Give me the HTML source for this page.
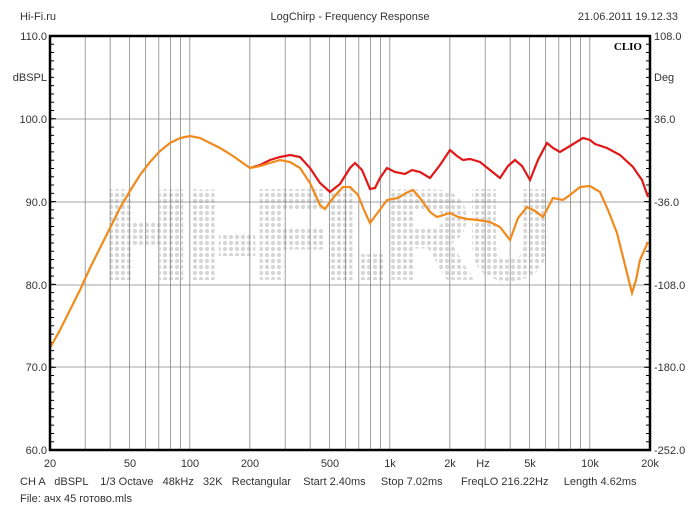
<!DOCTYPE html>
<html><head><meta charset="utf-8"><style>body{margin:0;background:#fff}svg{display:block;font-family:"Liberation Sans",sans-serif}</style></head><body>
<svg width="700" height="525" viewBox="0 0 700 525">
<defs><pattern id="d" width="6" height="6" patternUnits="userSpaceOnUse"><circle cx="3" cy="3" r="2.1" fill="#d6d6d6"/></pattern></defs>
<text x="328" y="276" font-size="120" font-weight="bold" fill="url(#d)" stroke="url(#d)" stroke-width="8" text-anchor="middle" textLength="445" lengthAdjust="spacingAndGlyphs">HI-FI.RU</text>
<g stroke="#888" stroke-width="0.8">
<line x1="85.2" y1="36" x2="85.2" y2="450"/><line x1="110.2" y1="36" x2="110.2" y2="450"/><line x1="129.6" y1="36" x2="129.6" y2="450"/><line x1="145.4" y1="36" x2="145.4" y2="450"/><line x1="158.8" y1="36" x2="158.8" y2="450"/><line x1="170.4" y1="36" x2="170.4" y2="450"/><line x1="180.6" y1="36" x2="180.6" y2="450"/><line x1="189.8" y1="36" x2="189.8" y2="450"/>
<line x1="249.8" y1="36" x2="249.8" y2="450"/><line x1="285.2" y1="36" x2="285.2" y2="450"/><line x1="310.2" y1="36" x2="310.2" y2="450"/><line x1="329.6" y1="36" x2="329.6" y2="450"/><line x1="345.4" y1="36" x2="345.4" y2="450"/><line x1="358.8" y1="36" x2="358.8" y2="450"/><line x1="370.4" y1="36" x2="370.4" y2="450"/><line x1="380.6" y1="36" x2="380.6" y2="450"/><line x1="389.8" y1="36" x2="389.8" y2="450"/>
<line x1="449.8" y1="36" x2="449.8" y2="450"/><line x1="485.2" y1="36" x2="485.2" y2="450"/><line x1="510.2" y1="36" x2="510.2" y2="450"/><line x1="529.6" y1="36" x2="529.6" y2="450"/><line x1="545.4" y1="36" x2="545.4" y2="450"/><line x1="558.8" y1="36" x2="558.8" y2="450"/><line x1="570.4" y1="36" x2="570.4" y2="450"/><line x1="580.6" y1="36" x2="580.6" y2="450"/><line x1="589.8" y1="36" x2="589.8" y2="450"/>
<line x1="50" y1="119" x2="650" y2="119"/><line x1="50" y1="202" x2="650" y2="202"/><line x1="50" y1="285" x2="650" y2="285"/><line x1="50" y1="367" x2="650" y2="367"/>
</g>
<g stroke="#000">
<line x1="52" y1="35.5" x2="52" y2="451" stroke-width="4" stroke-dasharray="1,7.28"/>
<line x1="648" y1="35.5" x2="648" y2="451" stroke-width="4" stroke-dasharray="1,7.28"/>
<line x1="53" y1="35.5" x2="53" y2="451" stroke-width="6" stroke-dasharray="1,81.8"/>
<line x1="647" y1="35.5" x2="647" y2="451" stroke-width="6" stroke-dasharray="1,81.8"/>
</g>
<text x="20" y="20" font-size="11" fill="#333">Hi-Fi.ru</text>
<text x="350" y="20" font-size="11" fill="#333" text-anchor="middle">LogChirp - Frequency Response</text>
<text x="678" y="20" font-size="11" fill="#333" text-anchor="end">21.06.2011 19.12.33</text>
<text x="642" y="50" font-size="11" font-weight="bold" font-family="Liberation Serif" text-anchor="end">CLIO</text>
<g font-size="11" fill="#333" text-anchor="end">
<text x="47" y="40">110.0</text><text x="47" y="123">100.0</text><text x="47" y="206">90.0</text><text x="47" y="289">80.0</text><text x="47" y="371">70.0</text><text x="47" y="454">60.0</text>
<text x="47" y="81">dBSPL</text></g>
<g font-size="11" fill="#333">
<text x="654" y="40">108.0</text><text x="654" y="123">36.0</text><text x="654" y="206">-36.0</text><text x="654" y="289">-108.0</text><text x="654" y="371">-180.0</text><text x="654" y="454">-252.0</text><text x="654" y="81">Deg</text></g>
<g font-size="11" fill="#333" text-anchor="middle">
<text x="50" y="467">20</text><text x="130" y="467">50</text><text x="190" y="467">100</text><text x="250" y="467">200</text><text x="330" y="467">500</text><text x="390" y="467">1k</text><text x="450" y="467">2k</text><text x="483" y="467">Hz</text><text x="530" y="467">5k</text><text x="590" y="467">10k</text><text x="650" y="467">20k</text></g>
<text x="20" y="485" font-size="11" fill="#333" xml:space="preserve">CH A   dBSPL    1/3 Octave   48kHz   32K   Rectangular    Start 2.40ms     Stop 7.02ms      FreqLO 216.22Hz     Length 4.62ms</text>
<text x="20" y="502" font-size="11" fill="#333">File: ачх 45 готово.mls</text>
<polyline fill="none" stroke="#e01818" stroke-width="2.2" points="250,168 260,165 270,160 280,157 290,155 300,157 310,168 320,183 330,192 340,184 350,168 355,163 362,170 370,189 375,188 380,178 387,168 395,172 405,174 412,170 420,172 430,178 440,165 450,150 457,156 463,160 470,159 480,162 490,170 500,178 508,166 515,160 522,166 530,180 538,160 547,143 553,148 560,152 570,146 583,138 590,140 595,144 607,148 620,155 633,167 642,180 648,197"/>
<polyline fill="none" stroke="#f08a1c" stroke-width="2.2" points="50,348 60,330 70,310 80,290 90,268 100,248 110,228 120,208 130,191 140,175 150,162 160,151 170,143 180,138 190,136 200,138 210,143 220,148 230,154 240,161 250,168 260,166 270,163 280,160 290,162 300,168 310,183 320,205 325,209 333,198 343,187 350,187 358,195 364,210 370,223 376,215 387,200 398,198 406,193 413,190 420,198 430,212 437,217 450,213 458,217 467,219 478,220 490,222 500,227 510,240 518,218 527,207 535,211 543,217 553,198 563,200 570,195 580,187 590,186 600,192 608,210 617,233 625,265 632,293 636,280 640,260 648,242"/>
<rect x="50" y="36" width="600" height="414" fill="none" stroke="#000" stroke-width="2.5"/>
</svg>
</body></html>
